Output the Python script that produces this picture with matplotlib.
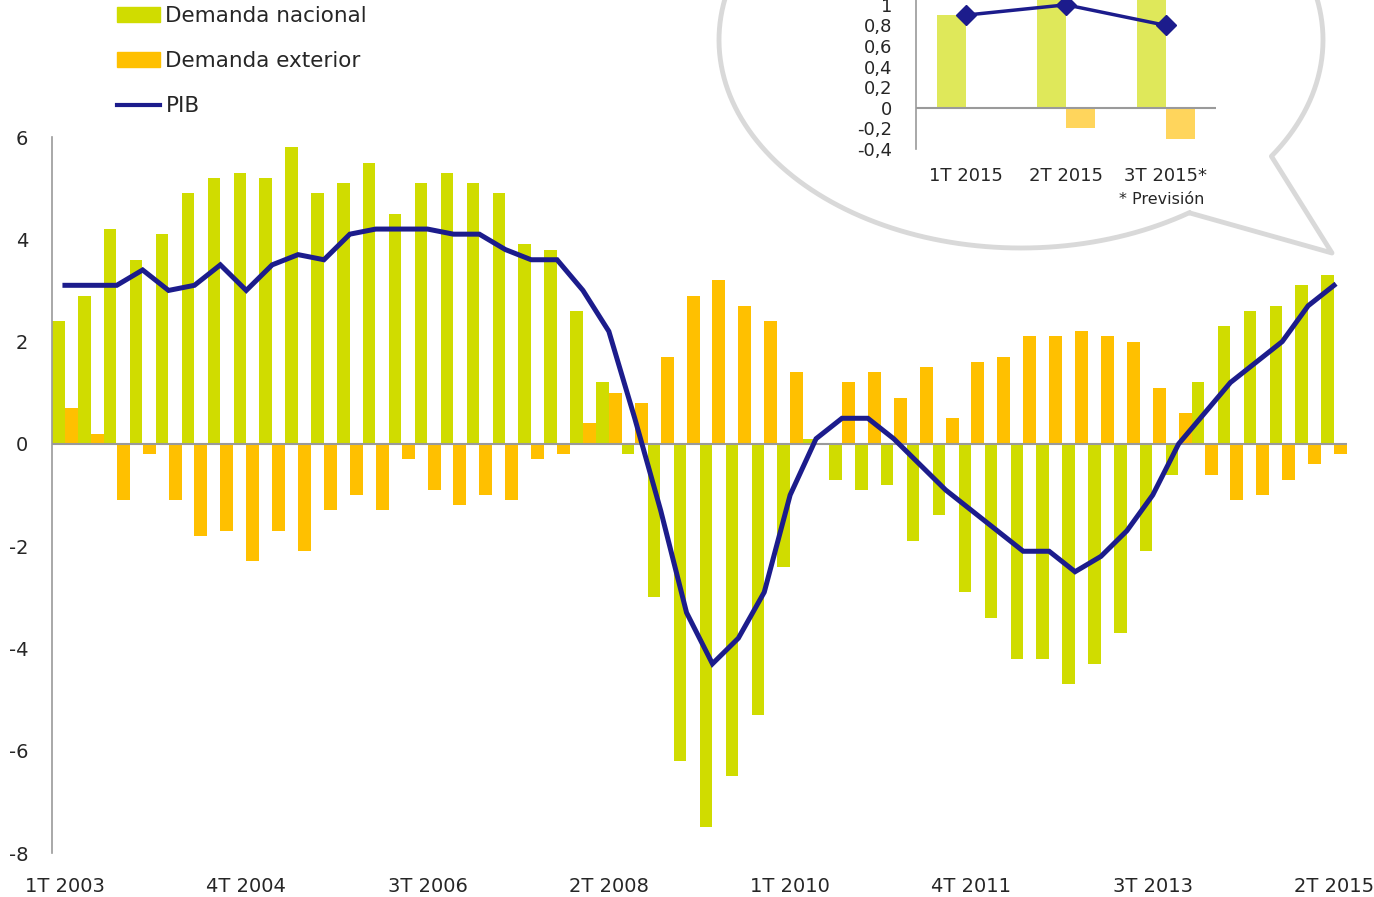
import numpy as np
import matplotlib.pyplot as plt
from matplotlib.lines import Line2D
from matplotlib.patches import Patch

# --- data ---------------------------------------------------------------
quarters = ['%dT %d' % (q, y) for y in range(2003, 2016) for q in range(1, 5)][:50]

nacional = [2.4, 2.9, 4.2, 3.6, 4.1, 4.9, 5.2, 5.3, 5.2, 5.8,
            4.9, 5.1, 5.5, 4.5, 5.1, 5.3, 5.1, 4.9, 3.9, 3.8,
            2.6, 1.2, -0.2, -3.0, -6.2, -7.5, -6.5, -5.3, -2.4, 0.1,
            -0.7, -0.9, -0.8, -1.9, -1.4, -2.9, -3.4, -4.2, -4.2, -4.7,
            -4.3, -3.7, -2.1, -0.6, 1.2, 2.3, 2.6, 2.7, 3.1, 3.3]

exterior = [0.7, 0.2, -1.1, -0.2, -1.1, -1.8, -1.7, -2.3, -1.7, -2.1,
            -1.3, -1.0, -1.3, -0.3, -0.9, -1.2, -1.0, -1.1, -0.3, -0.2,
            0.4, 1.0, 0.8, 1.7, 2.9, 3.2, 2.7, 2.4, 1.4, 0.0,
            1.2, 1.4, 0.9, 1.5, 0.5, 1.6, 1.7, 2.1, 2.1, 2.2,
            2.1, 2.0, 1.1, 0.6, -0.6, -1.1, -1.0, -0.7, -0.4, -0.2]

pib = [3.1, 3.1, 3.1, 3.4, 3.0, 3.1, 3.5, 3.0, 3.5, 3.7,
       3.6, 4.1, 4.2, 4.2, 4.2, 4.1, 4.1, 3.8, 3.6, 3.6,
       3.0, 2.2, 0.5, -1.3, -3.3, -4.3, -3.8, -2.9, -1.0, 0.1,
       0.5, 0.5, 0.1, -0.4, -0.9, -1.3, -1.7, -2.1, -2.1, -2.5,
       -2.2, -1.7, -1.0, 0.0, 0.6, 1.2, 1.6, 2.0, 2.7, 3.1]

inset_q = ['1T 2015', '2T 2015', '3T 2015*']
inset_nac = [0.9, 1.2, 1.1]
inset_ext = [0.0, -0.2, -0.3]
inset_pib = [0.9, 1.0, 0.8]

GREEN = '#d0dc00'
ORANGE = '#ffc000'
NAVY = '#1c1c8c'
GREY = '#9a9a9a'
TEXT = '#262626'

plt.rcParams['font.family'] = ['DejaVu Sans']
plt.rcParams['axes.unicode_minus'] = False

W, H = 1374, 897
fig = plt.figure(figsize=(W / 100, H / 100), dpi=100)

# --- main chart ---------------------------------------------------------
ax = fig.add_axes([52 / W, 1 - 853 / H, (1347 - 52) / W, (853 - 137) / H])
ax.set_zorder(1)
x = np.arange(len(quarters))
ax.bar(x - 0.25, nacional, width=0.48, color=GREEN, label='Demanda nacional')
ax.bar(x + 0.25, exterior, width=0.5, color=ORANGE, label='Demanda exterior')
ax.plot(x, pib, color=NAVY, lw=3.6, label='PIB', solid_joinstyle='miter')
ax.axhline(0, color=GREY, lw=1.5, zorder=1)

ax.set_xlim(-0.5, len(quarters) - 0.5)
ax.set_ylim(-8, 6)
ax.set_yticks(range(-8, 7, 2))
ax.set_xticks(x[::7])
ax.set_xticklabels(quarters[::7])
ax.tick_params(axis='y', length=0, pad=17, labelsize=14, labelcolor=TEXT)
ax.tick_params(axis='x', length=0, pad=17, labelsize=14, labelcolor=TEXT)
for s in ['top', 'right', 'bottom']:
    ax.spines[s].set_visible(False)
ax.spines['left'].set_color(GREY)
ax.spines['left'].set_linewidth(1.2)
ax.patch.set_alpha(0)

handles = [Patch(color=GREEN), Patch(color=ORANGE), Line2D([], [], color=NAVY, lw=3)]
fig.legend(handles, ['Demanda nacional', 'Demanda exterior', 'PIB'],
           loc='upper left', bbox_to_anchor=(117 / W, 1 - 6 / H),
           frameon=False, fontsize=15.5, borderpad=0, borderaxespad=0,
           handlelength=2.0, handletextpad=0.25, labelspacing=1.17,
           labelcolor=TEXT)

# --- speech bubble ------------------------------------------------------
ov = fig.add_axes([0, 0, 1, 1])
ov.set_zorder(2)
ov.set_xlim(0, W)
ov.set_ylim(H, 0)
ov.axis('off')
cx, cy, a, b = 1021, 40, 302, 208
tA = np.arctan2((157 - cy) / b, (1273 - cx) / a)
tB = np.arctan2((213 - cy) / b, (1190 - cx) / a)
t = np.linspace(tB, tA + 2 * np.pi, 400)
bx = list(cx + a * np.cos(t)) + [1332, 1190]
by = list(cy + b * np.sin(t)) + [253, 213]
ov.plot(bx, by, color='#d9d9d9', lw=3.5, solid_joinstyle='round', solid_capstyle='round')

# --- inset --------------------------------------------------------------
ymax = 1.2
y0 = 149
ppu = 103.0
top = y0 - (ymax + 0.4) * ppu
ins = fig.add_axes([916 / W, 1 - y0 / H, 300 / W, (y0 - top) / H])
ins.set_zorder(3)
ins.patch.set_alpha(0)
xi = np.arange(len(inset_q))
ins.bar(xi - 0.145, inset_nac, width=0.29, color='#dfe85a')
ins.bar(xi + 0.145, inset_ext, width=0.29, color='#ffd55c')
ins.plot(xi, inset_pib, color=NAVY, lw=2.5, marker='D', markersize=10)
ins.axhline(0, color=GREY, lw=1.5)
ins.set_xlim(-0.5, 2.5)
ins.set_ylim(-0.4, ymax)
yt = [-0.4, -0.2, 0, 0.2, 0.4, 0.6, 0.8, 1]
ins.set_yticks(yt)
ins.set_yticklabels([('%g' % v).replace('.', ',') for v in yt])
ins.set_xticks(xi)
ins.set_xticklabels(inset_q)
ins.tick_params(axis='y', length=0, pad=17, labelsize=13, labelcolor=TEXT)
ins.tick_params(axis='x', length=0, pad=13, labelsize=13, labelcolor=TEXT)
for s in ['top', 'right', 'bottom']:
    ins.spines[s].set_visible(False)
ins.spines['left'].set_color(GREY)
ins.spines['left'].set_linewidth(1.2)
fig.text(1204 / W, 1 - 199 / H, '* Previsión', ha='right', va='center',
         fontsize=11.5, color=TEXT)

fig.savefig('out.png', dpi=100)
